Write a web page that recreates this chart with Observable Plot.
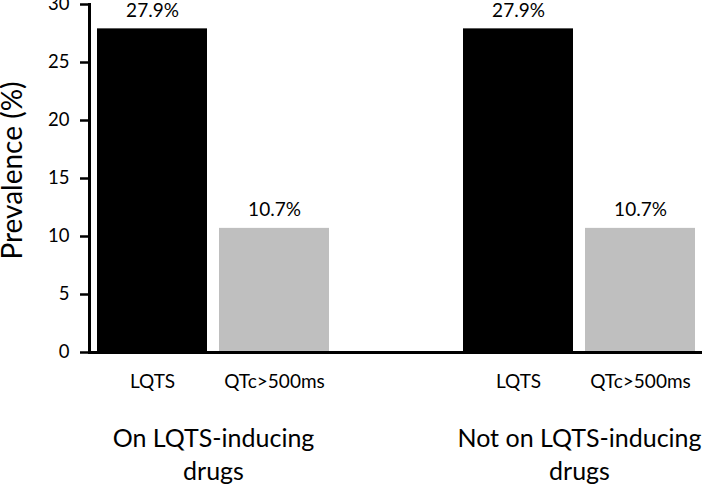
<!DOCTYPE html>
<html><head><meta charset="utf-8">
<script src="https://cdn.jsdelivr.net/npm/d3@7"></script>
<script src="https://cdn.jsdelivr.net/npm/@observablehq/plot@0.6"></script>
<style>body{margin:0;background:#fff}</style>
</head><body><div id="chart"></div>
<script>
const groupIds = ["On", "Not"];
const groupLabels = ["On LQTS-inducing\ndrugs", "Not on LQTS-inducing\ndrugs"];
const measures = ["LQTS", "QTc>500ms"];
const onValues = [27.9, 10.7];
const notOnValues = [27.9, 10.7];
const yTicks = [0, 5, 10, 15, 20, 25, 30];
const colors = ["#000000", "#bfbfbf"];

const rows = [];
[onValues, notOnValues].forEach((vals, gi) =>
  vals.forEach((v, mi) => rows.push({
    group: groupIds[gi], measure: measures[mi],
    key: groupIds[gi] + "|" + measures[mi], value: v
  })));
const xDomain = [rows[0].key, rows[1].key, "gap", rows[2].key, rows[3].key];
const groupRows = groupIds.map((g, i) => ({key: g + "|" + measures[0], label: groupLabels[i]}));

const font = "Lato, 'Open Sans', sans-serif";

function build(halfStep) {
  const marks = [
    Plot.barY(rows, {x: "key", y: "value", fill: "measure"}),
    Plot.text(rows, {x: "key", y: "value", text: d => d.value.toFixed(1) + "%", dy: -18, fontSize: 19, fill: "#000"}),
    Plot.ruleY([0], {strokeWidth: 3, stroke: "#000"}),
    Plot.frame({anchor: "left", strokeWidth: 3, stroke: "#000"}),
    Plot.axisY({ticks: yTicks, tickSize: 9, tickPadding: 11, fontSize: 18.5, strokeWidth: 2.5, label: null, stroke: "#000", fill: "#000"}),
    Plot.axisX({ticks: rows.map(d => d.key), tickSize: 0, tickPadding: 22, fontSize: 19, tickFormat: k => k.split("|")[1], label: null, fill: "#000"}),
    Plot.text(["Prevalence (%)"], {frameAnchor: "left", textAnchor: "middle", dx: -76, dy: -8, rotate: -90, fontSize: 28, fill: "#000"})
  ];
  if (halfStep != null) {
    marks.push(Plot.text(groupRows, {x: "key", text: "label", frameAnchor: "bottom", dx: halfStep, dy: 71, lineAnchor: "top", lineHeight: 1.32, fontSize: 25, fill: "#000"}));
  }
  return Plot.plot({
    width: 710, height: 487,
    marginLeft: 89, marginRight: 8, marginTop: 4, marginBottom: 135,
    style: {fontFamily: font, background: "#fff", color: "#000", overflow: "visible"},
    x: {type: "band", domain: xDomain, paddingInner: 0.1, paddingOuter: 0.05, align: 0.5, axis: null},
    y: {domain: [0, 30], axis: null},
    color: {domain: measures, range: colors},
    marks
  });
}
const base = build(null);
const step = base.scale("x").step;
document.getElementById("chart").append(build(step / 2));
</script>
</body></html>
